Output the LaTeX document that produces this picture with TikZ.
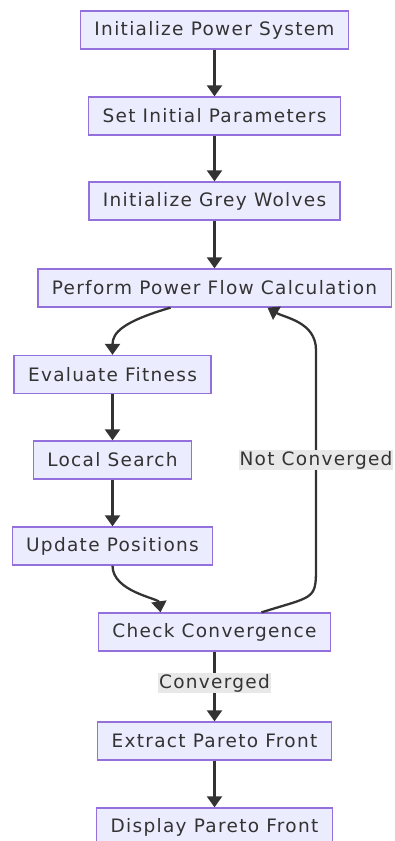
\documentclass[tikz,border=0pt]{standalone}
\usepackage{fontspec}
\setmainfont[LetterSpace=7]{DejaVu Sans}
\usetikzlibrary{arrows.meta,calc}
\definecolor{boxfill}{HTML}{ECECFF}
\definecolor{boxline}{HTML}{9370DB}
\definecolor{txt}{HTML}{333333}
\definecolor{lblbg}{HTML}{E8E8E8}
\tikzset{
  box/.style={draw=boxline, fill=boxfill, line width=1.3pt, text=txt,
    minimum height=38pt, inner xsep=14pt, font=\fontsize{18.5}{21}\selectfont},
  conn/.style={draw=txt, line width=2.3pt, -{Triangle[width=15pt,length=11pt]}},
  lbl/.style={fill=lblbg, text=txt, inner xsep=1pt, inner ysep=1.5pt, font=\fontsize{18.5}{21}\selectfont}
}
\begin{document}
\begin{tikzpicture}[x=1pt,y=-1pt]
\useasboundingbox (0,0) rectangle (395,841);
\node[box] (n1) at (214.5,30) {Initialize Power System};
\node[box] (n2) at (214.5,116) {Set Initial Parameters};
\node[box] (n3) at (214.5,201) {Initialize Grey Wolves};
\node[box] (n4) at (214.5,288) {Perform Power Flow Calculation};
\node[box] (n5) at (112.5,374.5) {Evaluate Fitness};
\node[box] (n6) at (112.5,460) {Local Search};
\node[box] (n7) at (112.5,546) {Update Positions};
\node[box] (n8) at (214.5,632) {Check Convergence};
\node[box] (n9) at (214.5,741) {Extract Pareto Front};
\node[box] (n10) at (214.5,827) {Display Pareto Front};
\draw[conn] (n1) -- (n2);
\draw[conn] (n2) -- (n3);
\draw[conn] (n3) -- (n4);
\draw[conn] ($(n4.south)+(-44,0)$) .. controls ($(n4.south)+(-92,14)$) and ($(n5.north)+(0,-22)$) .. (n5.north);
\draw[conn] (n5) -- (n6);
\draw[conn] (n6) -- (n7);
\draw[conn] (n7.south) .. controls ($(n7.south)+(0,26)$) and ($(n8.north)+(-56,-14)$) .. ($(n8.north)+(-54,0)$);
\draw[conn] ($(n8.north)+(47,0)$) .. controls ($(n8.north)+(98,-16)$) and (316,600) .. (316,570)
  -- (316,350) .. controls (316,322) and ($(n4.south)+(70,10)$) .. ($(n4.south)+(53,0)$);
\node[lbl] (l1) at (316,460) {Not Converged};
\draw[conn] (n8) -- (n9) node[lbl, pos=0.45] {Converged};
\draw[conn] (n9) -- (n10);
\end{tikzpicture}
\end{document}
